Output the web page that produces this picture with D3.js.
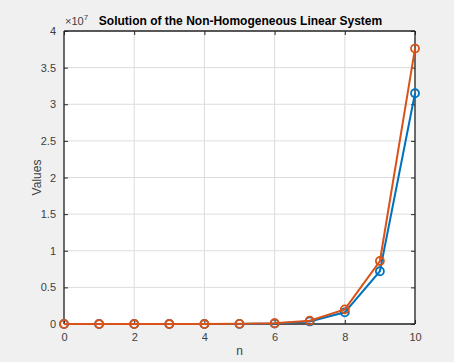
<!DOCTYPE html>
<html>
<head>
<meta charset="utf-8">
<script src="https://cdn.jsdelivr.net/npm/d3@7"></script>
<style>
  body { margin: 0; background: #f0f0f0; }
  text { font-family: "Liberation Sans", Arial, sans-serif; }
</style>
</head>
<body>
<div id="chart"></div>
<script>
// values in units of 1e7
var nValues = [0, 1, 2, 3, 4, 5, 6, 7, 8, 9, 10];
var seriesBlue = [0, 0, 0, 0, 0.0002, 0.001, 0.007, 0.035, 0.16, 0.72, 3.15];
var seriesOrange = [0, 0, 0, 0, 0.0003, 0.002, 0.01, 0.045, 0.2, 0.86, 3.76];
var xTicks = [0, 2, 4, 6, 8, 10];
var yTicks = [0, 0.5, 1, 1.5, 2, 2.5, 3, 3.5, 4];

var W = 454, H = 362;
var margin = {top: 31, right: 39, bottom: 38, left: 64},
    width = W - margin.left - margin.right,
    height = H - margin.top - margin.bottom;

var svg = d3.select("#chart").append("svg")
    .attr("width", W)
    .attr("height", H);

svg.append("rect").attr("width", W).attr("height", H).attr("fill", "#f0f0f0");

var g = svg.append("g")
    .attr("transform", "translate(" + margin.left + "," + margin.top + ")");

var x = d3.scaleLinear().domain([0, 10]).range([0, width]);
var y = d3.scaleLinear().domain([0, 4]).range([height, 0]);

g.append("rect").attr("width", width).attr("height", height).attr("fill", "white");

// grid
g.append("g").selectAll("line").data(xTicks).enter().append("line")
    .attr("x1", function(d) { return x(d); }).attr("x2", function(d) { return x(d); })
    .attr("y1", 0).attr("y2", height)
    .attr("stroke", "#dcdcdc").attr("stroke-width", 1);
g.append("g").selectAll("line").data(yTicks).enter().append("line")
    .attr("y1", function(d) { return y(d); }).attr("y2", function(d) { return y(d); })
    .attr("x1", 0).attr("x2", width)
    .attr("stroke", "#dcdcdc").attr("stroke-width", 1);

// axes
var axisColor = "#262626";
var xAxis = g.append("g")
    .attr("transform", "translate(0," + height + ")")
    .call(d3.axisBottom(x).tickValues(xTicks).tickSizeInner(-4).tickSizeOuter(0).tickPadding(9));
var xTop = g.append("g")
    .call(d3.axisTop(x).tickValues(xTicks).tickSizeInner(-4).tickSizeOuter(0).tickFormat(""));
var yAxis = g.append("g")
    .call(d3.axisLeft(y).tickValues(yTicks).tickSizeInner(-4).tickSizeOuter(0).tickPadding(8)
      .tickFormat(function(d) { return d3.format("")(d); }));
var yRight = g.append("g")
    .attr("transform", "translate(" + width + ",0)")
    .call(d3.axisRight(y).tickValues(yTicks).tickSizeInner(-4).tickSizeOuter(0).tickFormat(""));

[xAxis, xTop, yAxis, yRight].forEach(function(a) {
  a.selectAll("path").attr("stroke", axisColor).attr("stroke-width", 1.3);
  a.selectAll("line").attr("stroke", axisColor);
  a.selectAll("text").attr("fill", "#404040").style("font-size", "11px");
});
xAxis.select(".domain").attr("d", "M0,0H" + width);
yAxis.select(".domain").attr("d", "M0,0V" + height);
xTop.select(".domain").attr("d", "M0,0H" + width);
yRight.select(".domain").attr("d", "M0,0V" + height);

// lines
var line = d3.line()
    .x(function(d, i) { return x(nValues[i]); })
    .y(function(d) { return y(d); });

var series = [
  {name: "blue", values: seriesBlue, color: "#0072BD"},
  {name: "orange", values: seriesOrange, color: "#D95319"}
];

series.forEach(function(s) {
  g.append("path")
    .datum(s.values)
    .attr("fill", "none")
    .attr("stroke", s.color)
    .attr("stroke-width", 2)
    .attr("d", line);
  g.append("g").selectAll("circle").data(s.values).enter().append("circle")
    .attr("cx", function(d, i) { return x(nValues[i]); })
    .attr("cy", function(d) { return y(d); })
    .attr("r", 4)
    .attr("fill", "none")
    .attr("stroke", s.color)
    .attr("stroke-width", 1.8);
});

// exponent label
var expo = svg.append("text")
    .attr("x", margin.left + 1)
    .attr("y", margin.top - 6)
    .attr("fill", "#404040")
    .style("font-size", "11px");
expo.append("tspan").text("\u00d710");
expo.append("tspan").attr("dy", -5).style("font-size", "8px").text("7");

// title
svg.append("text")
    .attr("x", margin.left + width / 2 + 1)
    .attr("y", margin.top - 6)
    .attr("text-anchor", "middle")
    .attr("fill", "black")
    .style("font-size", "12px")
    .style("font-weight", "bold")
    .text("Solution of the Non-Homogeneous Linear System");

// axis labels
svg.append("text")
    .attr("x", margin.left + width / 2)
    .attr("y", H - 7)
    .attr("text-anchor", "middle")
    .attr("fill", "#404040")
    .style("font-size", "12px")
    .text("n");

svg.append("text")
    .attr("transform", "translate(41," + (margin.top + height / 2) + ") rotate(-90)")
    .attr("text-anchor", "middle")
    .attr("fill", "#404040")
    .style("font-size", "12px")
    .text("Values");
</script>
</body>
</html>
